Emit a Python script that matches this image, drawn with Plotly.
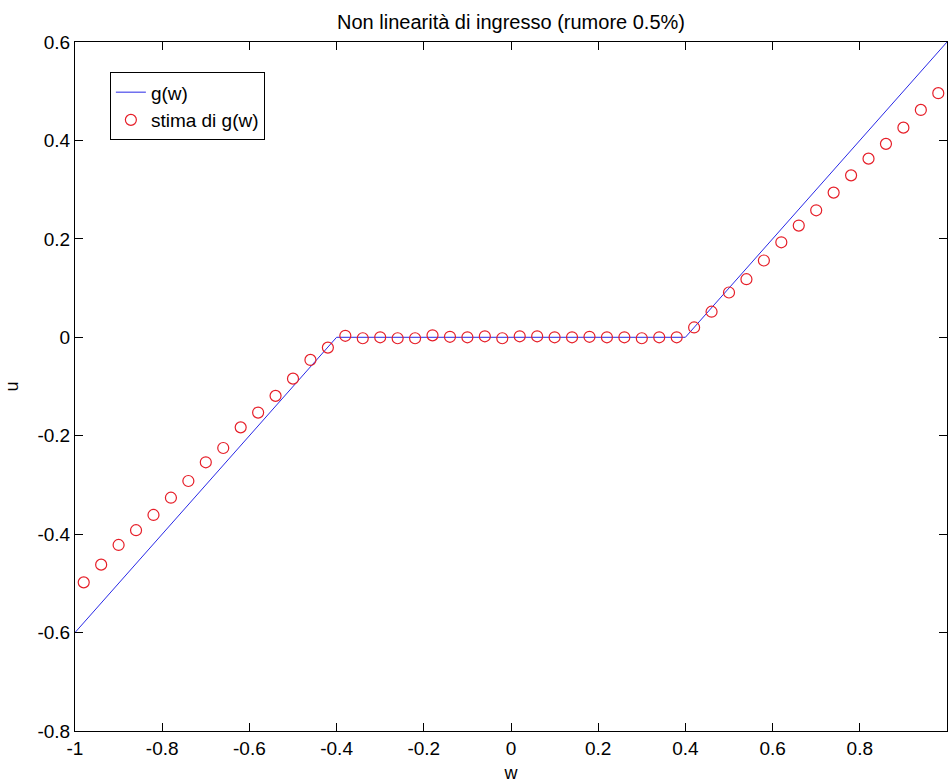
import plotly.graph_objects as go

# g(w): dead-zone nonlinearity breakpoints
line_w = [-1.0, -0.4, 0.4, 1.0]
line_u = [-0.6, 0.0, 0.0, 0.6]

# estimated points
est_w = [round(-0.98 + 0.04 * k, 2) for k in range(50)]
est_u = [
    -0.498, -0.462, -0.422, -0.392, -0.361, -0.326, -0.292, -0.254, -0.225, -0.183,
    -0.153, -0.119, -0.084, -0.046, -0.021,
    0.003, -0.002, 0.000, -0.002, -0.002, 0.004, 0.001, 0.000, 0.002, -0.002,
    0.002, 0.002, 0.000, 0.000, 0.001, 0.000, 0.000, -0.002, 0.000, 0.000,
    0.020, 0.052, 0.091, 0.118, 0.156, 0.193, 0.227, 0.258, 0.294, 0.329,
    0.363, 0.393, 0.426, 0.462, 0.496,
]

x_ticks = [-1, -0.8, -0.6, -0.4, -0.2, 0, 0.2, 0.4, 0.6, 0.8, 1]
x_tick_text = ["-1", "-0.8", "-0.6", "-0.4", "-0.2", "0", "0.2", "0.4", "0.6", "0.8", "1"]
y_ticks = [-0.8, -0.6, -0.4, -0.2, 0, 0.2, 0.4, 0.6]
y_tick_text = ["-0.8", "-0.6", "-0.4", "-0.2", "0", "0.2", "0.4", "0.6"]

FONT = "Liberation Sans, Arial, sans-serif"

fig = go.Figure()
fig.add_trace(go.Scatter(
    x=line_w, y=line_u, mode="lines", name="g(w)",
    line=dict(color="rgb(40,40,230)", width=1),
))
fig.add_trace(go.Scatter(
    x=est_w, y=est_u, mode="markers", name="stima di g(w)",
    marker=dict(symbol="circle-open", size=11, color="rgb(230,30,40)", line=dict(width=1.2)),
))

axis_common = dict(
    showline=True, linecolor="black", linewidth=1, mirror="ticks",
    ticks="inside", ticklen=8, tickcolor="black", tickwidth=1,
    showgrid=False, zeroline=False,
    tickfont=dict(family=FONT, size=19, color="black"),
)

fig.update_layout(
    width=952, height=783,
    margin=dict(l=75, r=5, t=42, b=52),
    paper_bgcolor="white", plot_bgcolor="white",
    font=dict(family=FONT, size=19, color="black"),
    title=dict(text="Non linearità di ingresso (rumore 0.5%)", x=(75 + 436) / 952, xanchor="center",
               y=1 - 22 / 783, yanchor="middle", font=dict(family=FONT, size=20, color="black")),
    xaxis=dict(range=[-1, 1], tickvals=x_ticks, ticktext=x_tick_text,
               title=dict(text="w", standoff=8, font=dict(family=FONT, size=18)), **axis_common),
    yaxis=dict(range=[-0.8, 0.6], tickvals=y_ticks, ticktext=y_tick_text,
               title=dict(text="u", standoff=14, font=dict(family=FONT, size=18)), **axis_common),
    showlegend=True,
    legend=dict(x=0.040, y=0.956, xanchor="left", yanchor="top",
                bordercolor="black", borderwidth=1, bgcolor="white",
                font=dict(family=FONT, size=19), tracegroupgap=0,
                itemwidth=30),
)

fig.write_html("out.html")
